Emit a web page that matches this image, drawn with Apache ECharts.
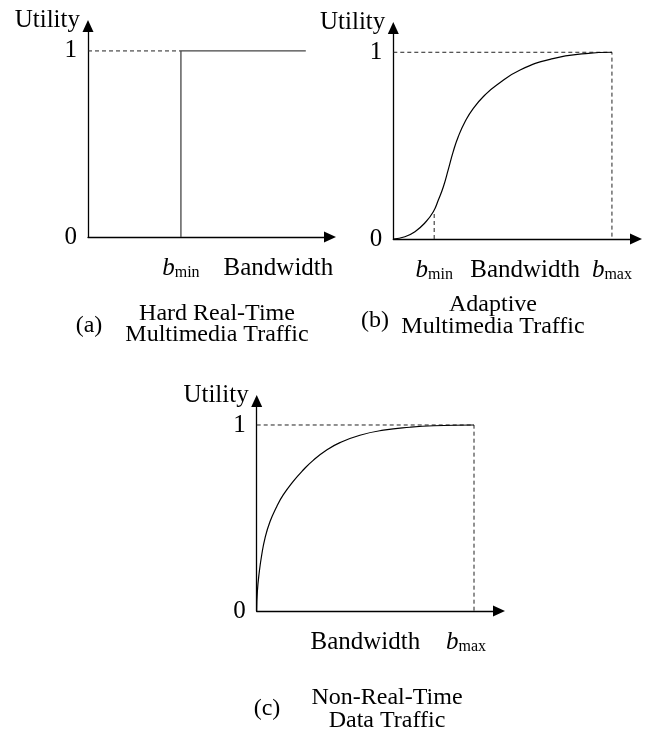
<!DOCTYPE html>
<html><head><meta charset="utf-8">
<script src="https://cdn.jsdelivr.net/npm/echarts@6/dist/echarts.min.js"></script>
<style>html,body{margin:0;padding:0;background:#fff}#c{width:645px;height:732px}</style>
</head><body><div id="c"></div>
<script>
// ---------- data ----------
const yTickValues = [0, 1];
const yTickLabels = ['0', '1'];

// (a) Hard real-time: step utility
const aBmin = 0.384;
const aStepX = [0.384, 0.384, 0.90];
const aStepY = [0, 1, 1];
const aDashX = [0, 0.384];
const aDashY = [1, 1];
const aLabelValues = [0.384, 0.787];
const aLabelTexts = ['bmin', 'Bandwidth'];

// (b) Adaptive: S-shaped utility
const bCurveX = [0, 0.053, 0.099, 0.145, 0.183, 0.206, 0.229, 0.251, 0.274, 0.297, 0.328, 0.366, 0.419, 0.473, 0.58, 0.73, 0.88, 1];
const bCurveY = [0, 0.012, 0.039, 0.087, 0.146, 0.209, 0.28, 0.37, 0.468, 0.548, 0.628, 0.70, 0.771, 0.825, 0.905, 0.966, 0.993, 1];
const bDashTopX = [0, 1, 1];
const bDashTopY = [1, 1, 0];
const bDashMinX = [0.187, 0.187];
const bDashMinY = [0, 0.146];
const bLabelValues = [0.187, 0.603, 1];
const bLabelTexts = ['bmin', 'Bandwidth', 'bmax'];

// (c) Non-real-time: concave utility
const cCurveX = [0, 0.003, 0.012, 0.023, 0.038, 0.061, 0.092, 0.122, 0.168, 0.214, 0.26, 0.322, 0.383, 0.475, 0.583, 0.705, 0.815, 1];
const cCurveY = [0, 0.104, 0.211, 0.301, 0.391, 0.48, 0.561, 0.624, 0.697, 0.758, 0.81, 0.865, 0.905, 0.945, 0.972, 0.988, 0.996, 1];
const cDashTopX = [0, 1, 1];
const cDashTopY = [1, 1, 0];
const cLabelValues = [0.50, 0.963];
const cLabelTexts = ['Bandwidth', 'bmax'];

// ---------- helpers ----------
const FONT = '"Liberation Serif", "Times New Roman", serif';
const zip = (xs, ys) => xs.map((x, i) => [x, ys[i]]);
const rich = {
  b: { fontFamily: FONT, fontSize: 25, fontStyle: 'italic', color: '#000', lineHeight: 30 },
  s: { fontFamily: FONT, fontSize: 16, color: '#000', lineHeight: 16, padding: [10, 0, 0, 0] },
  n: { fontFamily: FONT, fontSize: 25, color: '#000', lineHeight: 30 }
};
function xLabelFmt(values, texts) {
  return function (v) {
    let best = 0, d = Infinity;
    values.forEach((t, i) => { if (Math.abs(t - v) < d) { d = Math.abs(t - v); best = i; } });
    const t = texts[best];
    if (t === 'bmin') return '{b|b}{s|min}';
    if (t === 'bmax') return '{b|b}{s|max}';
    return '{n|' + t + '}';
  };
}
const axisLine = { show: true, onZero: false, symbol: ['none', 'triangle'], symbolSize: [11, 12],
  lineStyle: { color: '#000', width: 1.3 } };
function xAxis(idx, max, values, texts) {
  return {
    type: 'value', gridIndex: idx, min: 0, max: max,
    axisLine: axisLine, axisTick: { show: false }, splitLine: { show: false },
    axisLabel: { show: true, customValues: values, formatter: xLabelFmt(values, texts),
      margin: 16, rich: rich, showMinLabel: true, showMaxLabel: true, hideOverlap: false }
  };
}
function yAxis(idx, max) {
  return {
    type: 'value', gridIndex: idx, min: 0, max: max,
    name: 'Utility', nameLocation: 'end', nameGap: 6,
    nameTextStyle: { fontFamily: FONT, fontSize: 25, color: '#000', align: 'right', verticalAlign: 'middle', padding: [0, 8, 0, 0] },
    axisLine: axisLine, axisTick: { show: false }, splitLine: { show: false },
    axisLabel: { show: true, customValues: yTickValues,
      formatter: v => yTickLabels[yTickValues.indexOf(v)] ?? '',
      fontFamily: FONT, fontSize: 25, color: '#000', margin: 11 }
  };
}
const solid = (idx, data, color, w, smooth) => ({
  type: 'line', xAxisIndex: idx, yAxisIndex: idx, data: data, showSymbol: false, symbol: 'none',
  smooth: smooth || false, clip: false,
  lineStyle: { color: color, width: w }, silent: true, animation: false
});
const dashed = (idx, data) => ({
  type: 'line', xAxisIndex: idx, yAxisIndex: idx, data: data, showSymbol: false, symbol: 'none',
  clip: false, lineStyle: { color: '#222', width: 1, type: [4, 3] }, silent: true, animation: false
});

const chart = echarts.init(document.getElementById('c'), null, { renderer: 'canvas' });
chart.setOption({
  animation: false,
  backgroundColor: '#fff',
  grid: [
    { left: 88, top: 26, width: 242, height: 211 },
    { left: 393.3, top: 28, width: 242.7, height: 211 },
    { left: 256.7, top: 401, width: 242.3, height: 210 }
  ],
  xAxis: [
    xAxis(0, 1, aLabelValues, aLabelTexts),
    xAxis(1, 1.11, bLabelValues, bLabelTexts),
    xAxis(2, 1.115, cLabelValues, cLabelTexts)
  ],
  yAxis: [yAxis(0, 1.134), yAxis(1, 1.130), yAxis(2, 1.129)],
  series: [
    dashed(0, zip(aDashX, aDashY)),
    solid(0, zip(aStepX, aStepY), '#444', 1.3, false),
    dashed(1, zip(bDashTopX, bDashTopY)),
    dashed(1, zip(bDashMinX, bDashMinY)),
    solid(1, zip(bCurveX, bCurveY), '#000', 1.2, true),
    dashed(2, zip(cDashTopX, cDashTopY)),
    solid(2, zip(cCurveX, cCurveY), '#000', 1.2, true)
  ],
  graphic: [
    { type: 'text', x: 89, y: 326, style: { text: '(a)', font: '24px ' + FONT, fill: '#000', align: 'center', verticalAlign: 'middle' } },
    { type: 'text', x: 217, y: 324, style: { text: 'Hard Real-Time\nMultimedia Traffic', font: '24px ' + FONT, lineHeight: 21, fill: '#000', align: 'center', verticalAlign: 'middle' } },
    { type: 'text', x: 375, y: 321, style: { text: '(b)', font: '24px ' + FONT, fill: '#000', align: 'center', verticalAlign: 'middle' } },
    { type: 'text', x: 493, y: 316, style: { text: 'Adaptive\nMultimedia Traffic', font: '24px ' + FONT, lineHeight: 22, fill: '#000', align: 'center', verticalAlign: 'middle' } },
    { type: 'text', x: 267, y: 709, style: { text: '(c)', font: '24px ' + FONT, fill: '#000', align: 'center', verticalAlign: 'middle' } },
    { type: 'text', x: 387, y: 709, style: { text: 'Non-Real-Time\nData Traffic', font: '24px ' + FONT, lineHeight: 23, fill: '#000', align: 'center', verticalAlign: 'middle' } }
  ]
});
</script></body></html>
